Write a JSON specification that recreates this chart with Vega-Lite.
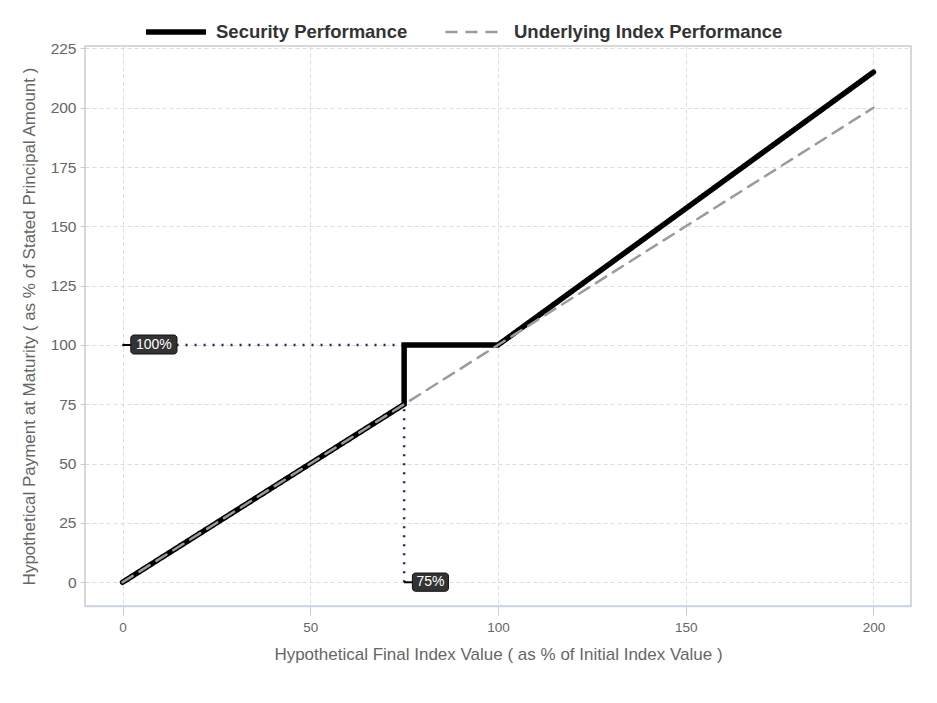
{
  "$schema": "https://vega.github.io/schema/vega-lite/v6.json",
  "width": 826,
  "height": 560,
  "autosize": {"type": "none"},
  "padding": {"left": 85, "top": 46, "right": 26, "bottom": 97},
  "background": "white",
  "config": {
    "font": "Liberation Sans",
    "view": {"stroke": "#cccccc", "strokeWidth": 1.5},
    "axis": {
      "gridColor": "#dddddd",
      "gridDash": [4, 3],
      "tickColor": "#cccccc",
      "domain": false,
      "labelColor": "#666666",
      "titleColor": "#666666",
      "titleFontWeight": "normal",
      "titleFontSize": 17
    }
  },
  "datasets": {
    "lines": [
      {"series": "Security Performance", "idx": 0, "x": 0, "y": 0},
      {"series": "Security Performance", "idx": 1, "x": 75, "y": 75},
      {"series": "Security Performance", "idx": 2, "x": 75, "y": 100},
      {"series": "Security Performance", "idx": 3, "x": 100, "y": 100},
      {"series": "Security Performance", "idx": 4, "x": 200, "y": 215},
      {"series": "Underlying Index Performance", "idx": 0, "x": 0, "y": 0},
      {"series": "Underlying Index Performance", "idx": 1, "x": 200, "y": 200}
    ],
    "guides": [
      {"x": 0, "y": 100, "x2": 75, "y2": 100},
      {"x": 75, "y": 0, "x2": 75, "y2": 100}
    ],
    "connectors": [
      {"x": 0, "y": 100, "x2": 2.5, "y2": 100},
      {"x": 75, "y": 0, "x2": 77.5, "y2": 0}
    ],
    "labels": [
      {"label": "100%", "x": 2.2, "x2": 14.5, "y": 96.2, "y2": 104.2, "tx": 8.35, "ty": 100},
      {"label": "75%", "x": 77.2, "x2": 86.8, "y": -3.8, "y2": 3.9, "tx": 82, "ty": 0}
    ]
  },
  "layer": [
    {
      "data": {"name": "guides"},
      "mark": {"type": "rule", "color": "#1b2a5c", "strokeWidth": 2.5, "strokeDash": [2, 7]},
      "encoding": {
        "x": {"field": "x", "type": "quantitative", "scale": {"domain": [-10, 210], "nice": false, "zero": false},
          "axis": {"values": [0, 50, 100, 150, 200], "title": "Hypothetical Final Index Value ( as % of Initial Index Value )", "labelFontSize": 13.5, "tickSize": 9, "labelPadding": 5, "titlePadding": 13, "domain": true, "domainColor": "#c8d6ea", "domainWidth": 1.5}},
        "y": {"field": "y", "type": "quantitative", "scale": {"domain": [-10, 226], "nice": false, "zero": false},
          "axis": {"values": [0, 25, 50, 75, 100, 125, 150, 175, 200, 225], "title": "Hypothetical Payment at Maturity ( as % of Stated Principal Amount )", "labelFontSize": 15.5, "tickSize": 5, "labelPadding": 4, "titlePadding": 12}},
        "x2": {"field": "x2"},
        "y2": {"field": "y2"}
      }
    },
    {
      "data": {"name": "lines"},
      "mark": {"type": "line", "strokeCap": "round", "strokeJoin": "miter"},
      "encoding": {
        "x": {"field": "x", "type": "quantitative"},
        "y": {"field": "y", "type": "quantitative"},
        "order": {"field": "idx", "type": "quantitative"},
        "color": {"field": "series", "type": "nominal",
          "scale": {"domain": ["Security Performance", "Underlying Index Performance"], "range": ["#000000", "#9a9aa2"]},
          "legend": {"title": null, "orient": "none", "legendX": 58, "legendY": -47, "direction": "horizontal",
            "labelFontSize": 18.5, "labelFontWeight": "bold", "labelColor": "#333333", "symbolType": "stroke",
            "symbolSize": 3600, "columnPadding": 32, "labelOffset": 7, "labelLimit": 400}},
        "strokeDash": {"field": "series", "type": "nominal",
          "scale": {"domain": ["Security Performance", "Underlying Index Performance"], "range": [[1, 0], [12, 8]]}},
        "strokeWidth": {"field": "series", "type": "nominal",
          "scale": {"domain": ["Security Performance", "Underlying Index Performance"], "range": [5.5, 2.5]}}
      }
    },
    {
      "data": {"name": "connectors"},
      "mark": {"type": "rule", "color": "#000000", "strokeWidth": 2},
      "encoding": {
        "x": {"field": "x", "type": "quantitative"},
        "y": {"field": "y", "type": "quantitative"},
        "x2": {"field": "x2"},
        "y2": {"field": "y2"}
      }
    },
    {
      "data": {"name": "labels"},
      "mark": {"type": "rect", "color": "#333333", "cornerRadius": 3, "stroke": "#111111", "strokeWidth": 1},
      "encoding": {
        "x": {"field": "x", "type": "quantitative"},
        "x2": {"field": "x2"},
        "y": {"field": "y", "type": "quantitative"},
        "y2": {"field": "y2"}
      }
    },
    {
      "data": {"name": "labels"},
      "mark": {"type": "text", "color": "#ffffff", "fontSize": 14, "align": "center", "baseline": "middle"},
      "encoding": {
        "x": {"field": "tx", "type": "quantitative"},
        "y": {"field": "ty", "type": "quantitative"},
        "text": {"field": "label"}
      }
    }
  ]
}
